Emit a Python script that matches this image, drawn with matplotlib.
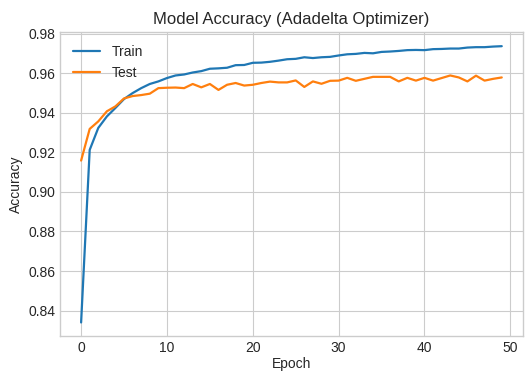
import matplotlib
matplotlib.use("Agg")
import matplotlib.pyplot as plt

epochs = list(range(50))

train_acc = [
    0.8340, 0.9212, 0.9323, 0.9381, 0.9424, 0.9469, 0.9499, 0.9524, 0.9545, 0.9558,
    0.9575, 0.9588, 0.9593, 0.9603, 0.9610, 0.9622, 0.9624, 0.9627, 0.9640, 0.9641,
    0.9652, 0.9653, 0.9657, 0.9663, 0.9670, 0.9672, 0.9680, 0.9676, 0.9680, 0.9682,
    0.9689, 0.9695, 0.9697, 0.9702, 0.9700, 0.9707, 0.9709, 0.9712, 0.9716, 0.9717,
    0.9716, 0.9721, 0.9722, 0.9724, 0.9724, 0.9729, 0.9731, 0.9731, 0.9734, 0.9736,
]

test_acc = [
    0.9158, 0.9318, 0.9356, 0.9407, 0.9432, 0.9472, 0.9484, 0.9489, 0.9496, 0.9524,
    0.9526, 0.9527, 0.9524, 0.9545, 0.9528, 0.9545, 0.9515, 0.9541, 0.9550, 0.9537,
    0.9541, 0.9550, 0.9557, 0.9553, 0.9553, 0.9563, 0.9530, 0.9558, 0.9546, 0.9561,
    0.9562, 0.9576, 0.9561, 0.9571, 0.9581, 0.9581, 0.9581, 0.9558, 0.9576, 0.9562,
    0.9576, 0.9562, 0.9575, 0.9588, 0.9578, 0.9558, 0.9587, 0.9562, 0.9571, 0.9578,
]

plt.style.use("seaborn-v0_8-whitegrid")
plt.rcParams["font.family"] = ["Liberation Sans", "DejaVu Sans"]

fig = plt.figure(figsize=(5.27, 3.72), dpi=100)
ax = fig.add_axes([0.114, 0.096, 0.878, 0.817])

ax.plot(epochs, train_acc, color="#1f77b4", linewidth=1.6, label="Train")
ax.plot(epochs, test_acc, color="#ff7f0e", linewidth=1.6, label="Test")

ax.set_title("Model Accuracy (Adadelta Optimizer)", fontsize=12)
ax.set_xlabel("Epoch", fontsize=10, labelpad=1.5)
ax.set_ylabel("Accuracy", fontsize=10)
ax.set_yticks([0.84, 0.86, 0.88, 0.90, 0.92, 0.94, 0.96, 0.98])
ax.set_xticks([0, 10, 20, 30, 40, 50])
ax.tick_params(labelsize=10)
ax.legend(loc="upper left", fontsize=10)

fig.savefig("out.png", dpi=100)
